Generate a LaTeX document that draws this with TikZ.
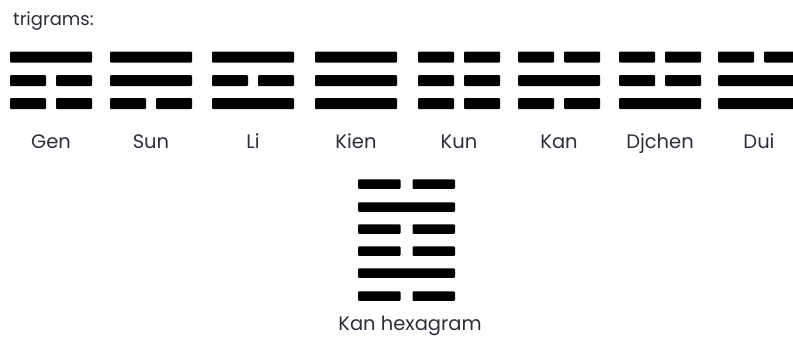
\documentclass[tikz,border=0pt]{standalone}
\usepackage{fontspec}
\setmainfont{Poppins}
\definecolor{txt}{HTML}{2E2E3A}
\tikzset{
  bar/.style={fill=black, rounded corners=1pt},
  lab/.style={text=txt, font=\fontsize{19.5}{22}\selectfont, inner sep=0pt, anchor=base},
}
% #1 left x, #2 center y, #3 width, #4 height, #5 gap, #6 type (1 solid, 0 broken)
\newcommand{\yaoline}[6]{%
  \ifnum#6=1
    \fill[bar] (#1,#2-#4/2) rectangle (#1+#3,#2+#4/2);
  \else
    \fill[bar] (#1,#2-#4/2) rectangle (#1+#3/2-#5/2,#2+#4/2);
    \fill[bar] (#1+#3/2+#5/2,#2-#4/2) rectangle (#1+#3,#2+#4/2);
  \fi}
\begin{document}
\begin{tikzpicture}[x=1pt,y=-1pt]
\useasboundingbox (0,0) rectangle (793,341);
\clip (0,0) rectangle (793,341);
\node[lab, anchor=base west, font=\fontsize{18}{21}\selectfont] (title) at (13,25) {trigrams:};
\foreach \x/\a/\b/\c/\nm [count=\i] in {10/1/0/0/Gen, 110/1/1/0/Sun, 212/1/0/1/Li, 315/1/1/1/Kien, 418/0/0/0/Kun, 518/0/1/0/Kan, 619/0/0/1/Djchen, 718/0/1/1/Dui}{
  \yaoline{\x}{57}{82}{11}{10}{\a}
  \yaoline{\x}{80.5}{82}{11}{10}{\b}
  \yaoline{\x}{103.5}{82}{11}{10}{\c}
  \node[lab] (t\i) at (\x+41,148) {\nm};
}
\foreach \yy/\t [count=\j] in {184/0, 207/1, 229/0, 251/0, 273/1, 296/0}{
  \yaoline{358}{\yy}{97}{9.5}{12}{\t}
}
\node[lab] (hex) at (410,330) {Kan hexagram};
\end{tikzpicture}
\end{document}
